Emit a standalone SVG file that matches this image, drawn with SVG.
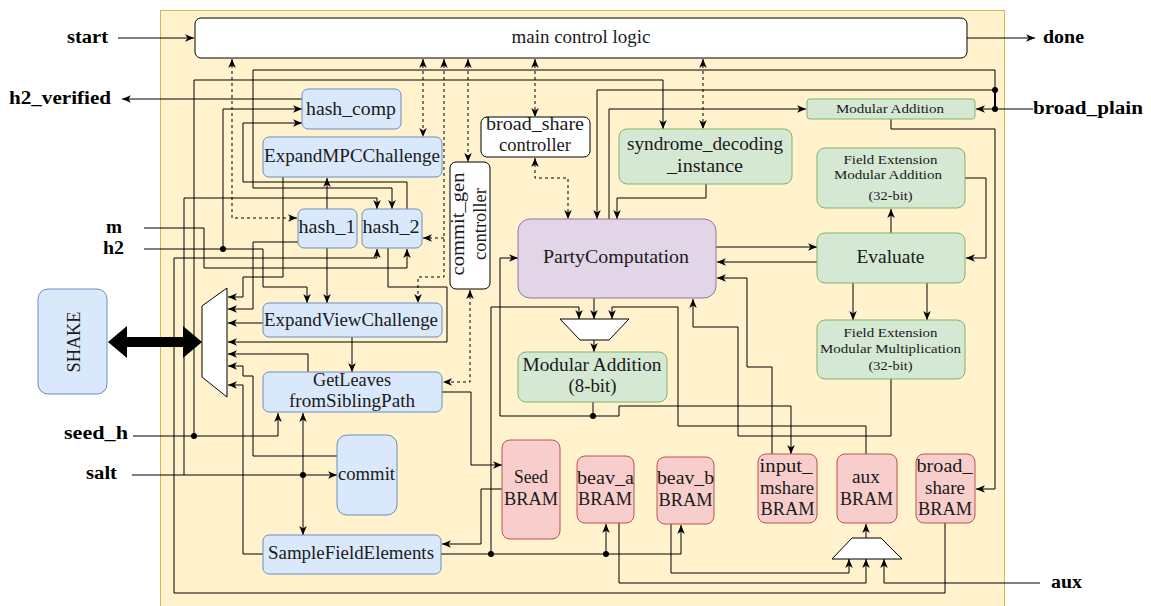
<svg xmlns="http://www.w3.org/2000/svg" width="1151" height="606" viewBox="0 0 1151 606">
<style>
.t{font-family:"Liberation Serif","Times New Roman",serif;fill:#1a1a1a;text-anchor:middle;font-size:18px}
.s{font-size:13.5px}
.o{font-weight:bold;fill:#000}
.c{fill:none;stroke:#000;stroke-width:1}
.d{stroke-dasharray:3 3}
.blue{fill:#dae8fc;stroke:#6c8ebf}
.green{fill:#d5e8d4;stroke:#82b366}
.red{fill:#f8cecc;stroke:#b85450}
.purple{fill:#e1d5e7;stroke:#9673a6}
.white{fill:#fff;stroke:#000}
</style>
<defs>
<marker id="a" viewBox="0 0 10 10" refX="10" refY="5" markerWidth="9" markerHeight="9" markerUnits="userSpaceOnUse" orient="auto-start-reverse">
<path d="M0,0.8 L10,5 L0,9.2 L2.8,5 Z" fill="#000"/>
</marker>
</defs>
<rect x="160.5" y="10.5" width="844" height="620" fill="#fff2cc" stroke="#d6b656"/>

<g id="connectors">
<path class="c" d="M118,38H194" marker-end="url(#a)"/>
<path class="c" d="M967,38H1035" marker-end="url(#a)"/>
<path class="c" d="M302,99H122" marker-end="url(#a)"/>
<path class="c" d="M1033,109H976" marker-end="url(#a)"/>
<path class="c" style="stroke-width:2" d="M995,109V90"/>
<path class="c" d="M995,90V70H253V188H392V209" marker-end="url(#a)"/>
<path class="c" d="M995,90H597V219" marker-end="url(#a)"/>
<path class="c" d="M609,219V109H806" marker-end="url(#a)"/>
<path class="c" d="M891,119V129H995V489H976" marker-end="url(#a)"/>
<path class="c" d="M965,178H986V258H966" marker-end="url(#a)"/>
<path class="c" d="M891,233V209" marker-end="url(#a)"/>
<path class="c" d="M853,283V320" marker-end="url(#a)"/>
<path class="c" d="M927,283V320" marker-end="url(#a)"/>
<path class="c" d="M716,247H817" marker-end="url(#a)"/>
<path class="c" d="M817,262H717" marker-end="url(#a)"/>
<path class="c" d="M891,379V436H738V327H693V299" marker-end="url(#a)"/>
<path class="c" d="M772,454V367H747V278H717" marker-end="url(#a)"/>
<path class="c" d="M706,184V198H617V219" marker-end="url(#a)"/>
<path class="c" d="M133,436H278V413" marker-end="url(#a)"/>
<path class="c" d="M194,436V80H663V129" marker-end="url(#a)"/>
<path class="c" d="M132,475H337" marker-end="url(#a)"/>
<path class="c" d="M303,475V413" marker-end="url(#a)"/>
<path class="c" d="M303,475V535" marker-end="url(#a)"/>
<path class="c" d="M184,475V198H377V209" marker-end="url(#a)"/>
<path class="c" d="M144,228H204V268H407V249" marker-end="url(#a)"/>
<path class="c" d="M144,249H263V287H307V303" marker-end="url(#a)"/>
<path class="c" d="M223,249V109H302" marker-end="url(#a)"/>
<path class="c" d="M407,209V182H243V123H302" marker-end="url(#a)"/>
<path class="c" d="M945,523V593H174V258H377V249" marker-end="url(#a)"/>
<path class="c" d="M327,209V178" marker-end="url(#a)"/>
<path class="c" d="M327,248V303" marker-end="url(#a)"/>
<path class="c" d="M283,177V277H243V297H228" marker-end="url(#a)"/>
<path class="c" d="M298,242H253V309H228" marker-end="url(#a)"/>
<path class="c" d="M263,323H228" marker-end="url(#a)"/>
<path class="c" d="M388,248V287H447V342H228" marker-end="url(#a)"/>
<path class="c" d="M308,372V354H228" marker-end="url(#a)"/>
<path class="c" d="M337,456H253V376H243V366H228" marker-end="url(#a)"/>
<path class="c" d="M263,554H243V385H228" marker-end="url(#a)"/>
<path class="c" d="M352,337V372" marker-end="url(#a)"/>
<path class="c" d="M442,392H471V465H502" marker-end="url(#a)"/>
<path class="c" d="M502,489H481V544H442" marker-end="url(#a)"/>
<path class="c" d="M441,554H681V525" marker-end="url(#a)"/>
<path class="c" d="M606,554V524" marker-end="url(#a)"/>
<path class="c" d="M491,554V307H579V319" marker-end="url(#a)"/>
<path class="c" d="M594,298V319" marker-end="url(#a)"/>
<path class="c" d="M866,454V426H678V307H612V319" marker-end="url(#a)"/>
<path class="c" d="M594,340V352" marker-end="url(#a)"/>
<path class="c" d="M593,402V416"/>
<path class="c" d="M593,416H500V258H518" marker-end="url(#a)"/>
<path class="c" d="M593,416H619V406H791V454" marker-end="url(#a)"/>
<path class="c" d="M619,523V583H866V559" marker-end="url(#a)"/>
<path class="c" d="M671,524V573H849V559" marker-end="url(#a)"/>
<path class="c" d="M1040,583H884V559" marker-end="url(#a)"/>
<path class="c" d="M866,538V524" marker-end="url(#a)"/>
<path class="c d" d="M232,59V218H297" marker-start="url(#a)" marker-end="url(#a)"/>
<path class="c d" d="M423,59V137" marker-start="url(#a)" marker-end="url(#a)"/>
<path class="c d" d="M444,59V277H418V303" marker-start="url(#a)" marker-end="url(#a)"/>
<path class="c d" d="M444,238H423" marker-end="url(#a)"/>
<path class="c d" d="M468,59V162" marker-start="url(#a)" marker-end="url(#a)"/>
<path class="c d" d="M535,59V117" marker-start="url(#a)" marker-end="url(#a)"/>
<path class="c d" d="M535,158V178H568V219" marker-start="url(#a)" marker-end="url(#a)"/>
<path class="c d" d="M703,59V129" marker-start="url(#a)" marker-end="url(#a)"/>
<path class="c d" d="M470,290V382H443" marker-start="url(#a)" marker-end="url(#a)"/>
<polygon points="108,342 127,326 127,337 183,337 183,326 202,342 183,358 183,347 127,347 127,358" fill="#000"/>
<g fill="#000">
<circle cx="995" cy="109" r="3"/><circle cx="995" cy="90" r="3"/>
<circle cx="223" cy="249" r="3"/><circle cx="194" cy="436" r="3"/>
<circle cx="303" cy="475" r="3"/><circle cx="491" cy="554" r="3"/>
<circle cx="606" cy="554" r="3"/><circle cx="593" cy="416" r="3"/>
</g>
</g>

<g id="labels">
<text class="t o" x="87.5" y="43" textLength="41" lengthAdjust="spacingAndGlyphs">start</text>
<text class="t o" x="1063.5" y="43" textLength="41" lengthAdjust="spacingAndGlyphs">done</text>
<text class="t o" x="60" y="104" textLength="102" lengthAdjust="spacingAndGlyphs">h2_verified</text>
<text class="t o" x="1088" y="114" textLength="110" lengthAdjust="spacingAndGlyphs">broad_plain</text>
<text class="t o" x="114" y="233" textLength="16" lengthAdjust="spacingAndGlyphs">m</text>
<text class="t o" x="113.5" y="254" textLength="21" lengthAdjust="spacingAndGlyphs">h2</text>
<text class="t o" x="96" y="439" textLength="64" lengthAdjust="spacingAndGlyphs">seed_h</text>
<text class="t o" x="101.5" y="479" textLength="31" lengthAdjust="spacingAndGlyphs">salt</text>
<text class="t o" x="1066.5" y="588" textLength="31" lengthAdjust="spacingAndGlyphs">aux</text>
</g>

<g id="main_control_logic"><rect class="white" x="195" y="18" width="772" height="40" rx="6"/>
<text class="t" x="581" y="43" textLength="139" lengthAdjust="spacingAndGlyphs">main control logic</text></g>
<g id="hash_comp"><rect class="blue" x="302" y="89" width="99" height="40" rx="6"/>
<text class="t" x="351" y="115" textLength="90" lengthAdjust="spacingAndGlyphs">hash_comp</text></g>
<g id="ExpandMPCChallenge"><rect class="blue" x="263" y="137" width="179" height="40" rx="6"/>
<text class="t" x="352" y="162" textLength="176" lengthAdjust="spacingAndGlyphs">ExpandMPCChallenge</text></g>
<g id="hash_1"><rect class="blue" x="298" y="209" width="59" height="39" rx="6"/>
<text class="t" x="327" y="233" textLength="57" lengthAdjust="spacingAndGlyphs">hash_1</text></g>
<g id="hash_2"><rect class="blue" x="362" y="209" width="60" height="39" rx="6"/>
<text class="t" x="391" y="233" textLength="57" lengthAdjust="spacingAndGlyphs">hash_2</text></g>
<g id="commit_gen_controller"><rect class="white" x="450" y="162" width="40" height="127" rx="6"/>
<text class="t" transform="translate(464,224) rotate(-90)" textLength="103" lengthAdjust="spacingAndGlyphs">commit_gen</text>
<text class="t" transform="translate(486,224) rotate(-90)" textLength="72" lengthAdjust="spacingAndGlyphs">controller</text></g>
<g id="broad_share_controller"><rect class="white" x="481" y="117" width="109" height="40" rx="6"/>
<text class="t" x="535" y="130" textLength="98" lengthAdjust="spacingAndGlyphs">broad_share</text>
<text class="t" x="535" y="151" textLength="72" lengthAdjust="spacingAndGlyphs">controller</text></g>
<g id="syndrome_decoding_instance"><rect class="green" x="619" y="129" width="173" height="55" rx="8"/>
<text class="t" x="705" y="150" textLength="156" lengthAdjust="spacingAndGlyphs">syndrome_decoding</text>
<text class="t" x="705" y="172" textLength="76" lengthAdjust="spacingAndGlyphs">_instance</text></g>
<g id="modular_addition"><rect class="green" x="807" y="99" width="168" height="20" rx="3"/>
<text class="t s" x="890" y="113" textLength="108" lengthAdjust="spacingAndGlyphs">Modular Addition</text></g>
<g id="fe_modular_addition"><rect class="green" x="817" y="148" width="148" height="60" rx="8"/>
<text class="t s" x="890.5" y="164" textLength="94" lengthAdjust="spacingAndGlyphs">Field Extension</text>
<text class="t s" x="888" y="179" textLength="108" lengthAdjust="spacingAndGlyphs">Modular Addition</text>
<text class="t s" x="890.5" y="200" textLength="44" lengthAdjust="spacingAndGlyphs">(32-bit)</text></g>
<g id="Evaluate"><rect class="green" x="817" y="233" width="148" height="50" rx="8"/>
<text class="t" x="890.5" y="263" textLength="68" lengthAdjust="spacingAndGlyphs">Evaluate</text></g>
<g id="fe_modular_multiplication"><rect class="green" x="817" y="320" width="148" height="59" rx="8"/>
<text class="t s" x="890.5" y="337" textLength="94" lengthAdjust="spacingAndGlyphs">Field Extension</text>
<text class="t s" x="890.5" y="353" textLength="141" lengthAdjust="spacingAndGlyphs">Modular Multiplication</text>
<text class="t s" x="890.5" y="370" textLength="44" lengthAdjust="spacingAndGlyphs">(32-bit)</text></g>
<g id="PartyComputation"><rect class="purple" x="518" y="219" width="198" height="79" rx="12"/>
<text class="t" x="616" y="263" textLength="146" lengthAdjust="spacingAndGlyphs">PartyComputation</text></g>
<g id="mux_party"><polygon class="white" points="560,319 629,319 609,340 580,340"/></g>
<g id="modular_addition_8bit"><rect class="green" x="518" y="352" width="149" height="50" rx="8"/>
<text class="t" x="592" y="371" textLength="139" lengthAdjust="spacingAndGlyphs">Modular Addition</text>
<text class="t" x="592.5" y="392" textLength="48" lengthAdjust="spacingAndGlyphs">(8-bit)</text></g>
<g id="ExpandViewChallenge"><rect class="blue" x="263" y="303" width="179" height="34" rx="6"/>
<text class="t" x="351" y="326" textLength="174" lengthAdjust="spacingAndGlyphs">ExpandViewChallenge</text></g>
<g id="GetLeavesfromSiblingPath"><rect class="blue" x="263" y="372" width="179" height="40" rx="6"/>
<text class="t" x="352" y="386" textLength="78" lengthAdjust="spacingAndGlyphs">GetLeaves</text>
<text class="t" x="352" y="407" textLength="126" lengthAdjust="spacingAndGlyphs">fromSiblingPath</text></g>
<g id="commit"><rect class="blue" x="337" y="435" width="60" height="80" rx="10"/>
<text class="t" x="366.5" y="480" textLength="57" lengthAdjust="spacingAndGlyphs">commit</text></g>
<g id="SampleFieldElements"><rect class="blue" x="263" y="535" width="178" height="39" rx="6"/>
<text class="t" x="351" y="559" textLength="166" lengthAdjust="spacingAndGlyphs">SampleFieldElements</text></g>
<g id="SHAKE"><rect class="blue" x="38" y="289" width="69" height="105" rx="10"/>
<text class="t" transform="translate(80,342) rotate(-90)" textLength="61" lengthAdjust="spacingAndGlyphs">SHAKE</text></g>
<g id="mux_shake"><polygon class="white" points="202,306 227,288 227,397 202,377"/></g>
<g id="seed_bram"><rect class="red" x="502" y="440" width="58" height="99" rx="8"/>
<text class="t" x="531" y="483" textLength="34" lengthAdjust="spacingAndGlyphs">Seed</text>
<text class="t" x="531" y="505" textLength="54" lengthAdjust="spacingAndGlyphs">BRAM</text></g>
<g id="beav_a_bram"><rect class="red" x="577" y="456" width="57" height="67" rx="8"/>
<text class="t" x="605.5" y="484" textLength="57" lengthAdjust="spacingAndGlyphs">beav_a</text>
<text class="t" x="605" y="505" textLength="54" lengthAdjust="spacingAndGlyphs">BRAM</text></g>
<g id="beav_b_bram"><rect class="red" x="657" y="457" width="57" height="67" rx="8"/>
<text class="t" x="685.5" y="484" textLength="57" lengthAdjust="spacingAndGlyphs">beav_b</text>
<text class="t" x="685.5" y="506" textLength="54" lengthAdjust="spacingAndGlyphs">BRAM</text></g>
<g id="input_mshare_bram"><rect class="red" x="758" y="454" width="59" height="69" rx="8"/>
<text class="t" x="786" y="472" textLength="53" lengthAdjust="spacingAndGlyphs">input_</text>
<text class="t" x="787" y="494" textLength="54" lengthAdjust="spacingAndGlyphs">mshare</text>
<text class="t" x="787.5" y="515" textLength="54" lengthAdjust="spacingAndGlyphs">BRAM</text></g>
<g id="aux_bram"><rect class="red" x="837" y="454" width="60" height="69" rx="8"/>
<text class="t" x="866" y="483" textLength="28" lengthAdjust="spacingAndGlyphs">aux</text>
<text class="t" x="866.5" y="505" textLength="53" lengthAdjust="spacingAndGlyphs">BRAM</text></g>
<g id="broad_share_bram"><rect class="red" x="916" y="454" width="59" height="69" rx="8"/>
<text class="t" x="944.5" y="472" textLength="56" lengthAdjust="spacingAndGlyphs">broad_</text>
<text class="t" x="945" y="494" textLength="40" lengthAdjust="spacingAndGlyphs">share</text>
<text class="t" x="945" y="515" textLength="54" lengthAdjust="spacingAndGlyphs">BRAM</text></g>
<g id="mux_aux"><polygon class="white" points="852,538 881,538 902,559 832,559"/></g>
</svg>
